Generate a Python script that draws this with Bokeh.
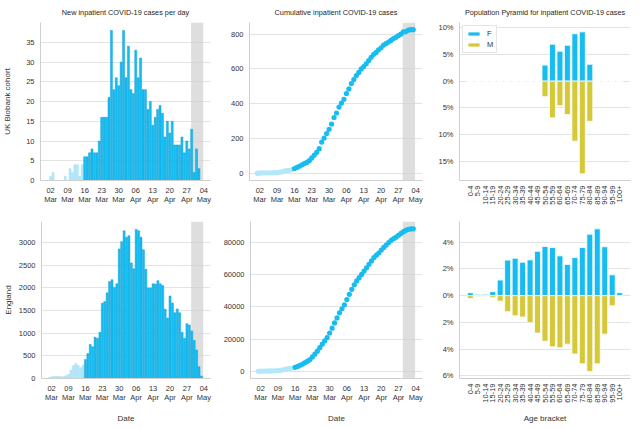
import numpy as np
import pandas as pd
from bokeh.plotting import figure
from bokeh.layouts import row, column
from bokeh.models import (ColumnDataSource, FixedTicker, DatetimeTickFormatter,
                          BoxAnnotation, Range1d, FactorRange)
from bokeh.embed import file_html
from bokeh.resources import INLINE

# days covered: 1 Mar .. 3 May 2020
dates = pd.date_range("2020-03-01", "2020-05-03", freq="D")
lockdown_split = pd.Timestamp("2020-03-16")   # lighter colour before this day

# new inpatient cases per day, UK Biobank cohort
ukb_daily = [0, 1, 2, 0, 0, 0, 0, 1, 0, 3, 2, 4, 4, 1, 4,
             6, 6, 7, 8, 7, 7, 10, 16, 16, 16, 21, 38, 23, 26, 24, 30,
             38, 26, 34, 23, 22, 33, 26, 31, 23, 23, 18, 20, 14, 16, 18,
             19, 17, 11, 15, 12, 15, 9, 9, 9, 11, 7, 10, 8, 13, 2,
             8, 3, 0]

# new inpatient cases per day, England
eng_daily = [20, 40, 45, 45, 50, 40, 40, 60, 90, 180, 280, 330, 290, 240, 290,
             420, 550, 750, 700, 910, 890, 1020, 1660, 1700, 1890, 2140, 2180, 2010, 2090, 2860, 3020,
             3260, 3120, 3150, 2550, 2420, 3290, 3260, 3120, 2840, 2410, 2000, 2000, 2090, 2085, 2160,
             2090, 2050, 1530, 1335, 1820, 1665, 1450, 1535, 1450, 1020, 890, 1210, 1180, 1050, 840,
             630, 260, 55]

# incomplete recent data (shaded)
shade_start = pd.Timestamp("2020-04-28 18:00")
shade_end = pd.Timestamp("2020-05-03 18:00")

date_ticks = ["2020-03-02", "2020-03-09", "2020-03-16", "2020-03-23", "2020-03-30",
              "2020-04-06", "2020-04-13", "2020-04-20", "2020-04-27", "2020-05-04"]

ages = ["0-4", "5-9", "10-14", "15-19", "20-24", "25-29", "30-34", "35-39", "40-44",
        "45-49", "50-54", "55-59", "60-64", "65-69", "70-74", "75-79", "80-84",
        "85-89", "90-94", "95-99", "100+"]

# percent of cases per age bracket
ukb_female = [0, 0, 0, 0, 0, 0, 0, 0, 0, 0, 3.0, 6.9, 5.6, 6.7, 8.85, 9.2, 3.15, 0, 0, 0, 0]
ukb_male = [0, 0, 0, 0, 0, 0, 0, 0, 0, 0, 2.9, 6.85, 4.6, 6.25, 11.2, 17.3, 7.5, 0, 0, 0, 0]
eng_female = [0.22, 0.1, 0.1, 0.3, 1.17, 2.66, 2.8, 2.5, 2.68, 3.32, 3.68, 3.6, 2.98,
              2.34, 2.85, 3.6, 4.6, 5.0, 3.66, 1.56, 0.22]
eng_male = [0.22, 0.07, 0.07, 0.15, 0.41, 1.2, 1.51, 1.6, 2.02, 2.8, 3.41, 3.83, 3.9,
            3.63, 4.37, 5.1, 5.68, 5.1, 2.88, 0.76, 0.07]

BLUE = "#17bdf1"
BLUE_EDGE = "#0aa3d9"
LIGHT = "#b3e7f9"
LIGHT_EDGE = "#a2dff4"
YELLOW = "#d5c93a"
FONT = "Liberation Sans"

DAY_MS = 86400000
x_lo = pd.Timestamp("2020-02-26 20:00")
x_hi = pd.Timestamp("2020-05-06 18:00")


def make_fig(width, height, y_range, borders, x_range=None, title=None, datetime=True):
    left, right, top, bottom = borders
    kw = dict(width=width, height=height, y_range=y_range,
              output_backend="svg", toolbar_location=None,
              min_border_left=left, min_border_right=right,
              min_border_top=top, min_border_bottom=bottom)
    if datetime:
        kw["x_axis_type"] = "datetime"
        kw["x_range"] = Range1d(x_lo, x_hi)
    else:
        kw["x_range"] = x_range
    if title:
        kw["title"] = title
    p = figure(**kw)
    p.outline_line_color = None
    p.background_fill_color = "white"
    p.xgrid.grid_line_color = None
    p.ygrid.grid_line_color = "#dcdcdc"
    p.ygrid.grid_line_width = 0.8
    p.axis.axis_line_color = "#cfcfcf"
    p.axis.major_tick_line_color = None
    p.axis.minor_tick_line_color = None
    p.axis.major_tick_out = 0
    p.axis.major_tick_in = 0
    p.axis.minor_tick_out = 0
    p.axis.minor_tick_in = 0
    p.axis.major_label_text_font = FONT
    p.axis.major_label_text_font_size = "7.5px"
    p.axis.major_label_text_color = "#333333"
    p.xaxis.major_label_standoff = 5
    p.yaxis.major_label_standoff = 6
    p.axis.axis_label_text_font = FONT
    p.axis.axis_label_text_font_size = "8px"
    p.axis.axis_label_text_font_style = "normal"
    p.axis.axis_label_text_color = "#333333"
    p.axis.axis_label_standoff = 4
    if title:
        p.title.text_font = FONT
        p.title.text_font_size = "7.3px"
        p.title.text_font_style = "normal"
        p.title.text_color = "#262626"
        p.title.align = "center"
        p.title.standoff = 11
    if datetime:
        p.xaxis.ticker = FixedTicker(ticks=[pd.Timestamp(d).value / 1e6 for d in date_ticks])
        p.xaxis.formatter = DatetimeTickFormatter(days="%d\n%b", months="%d\n%b")
        p.xaxis.major_label_text_line_height = 1.05
        p.add_layout(BoxAnnotation(left=shade_start, right=shade_end, fill_color="#d0d0d0",
                                   fill_alpha=0.7, line_color=None, level="underlay"))
    return p


def daily_bars(p, values):
    early = dates < lockdown_split
    src = ColumnDataSource(dict(
        x=dates, top=values,
        fill=np.where(early, LIGHT, BLUE),
        edge=np.where(early, LIGHT_EDGE, BLUE_EDGE)))
    p.vbar(x="x", top="top", width=0.82 * DAY_MS, source=src,
           fill_color="fill", line_color="edge", line_width=0.5)


def cumulative_dots(p, values):
    early = dates < lockdown_split
    src = ColumnDataSource(dict(
        x=dates, y=np.cumsum(values),
        c=np.where(early, LIGHT, BLUE)))
    p.scatter(x="x", y="y", size=5.2, source=src, fill_color="c", line_color=None)


def pyramid(p, female, male, legend=False):
    src = ColumnDataSource(dict(age=ages, f=female, m=[-v for v in male]))
    kw_f = dict(legend_label="F") if legend else {}
    kw_m = dict(legend_label="M") if legend else {}
    p.vbar(x="age", top="f", width=0.8, source=src, fill_color=BLUE,
           line_color="white", line_width=0.8, **kw_f)
    p.vbar(x="age", top="m", width=0.8, source=src, fill_color=YELLOW,
           line_color="white", line_width=0.8, **kw_m)
    p.xaxis.major_label_orientation = np.pi / 2


def pct_axis(p, ticks):
    p.yaxis.ticker = FixedTicker(ticks=ticks)
    p.yaxis.major_label_overrides = {t: f"{abs(t)}%" for t in ticks}


def age_range():
    return FactorRange(factors=ages, range_padding=0.95, range_padding_units="absolute")


# widths / borders (left, right, top, bottom)
W1, W2, W3 = 220, 212, 200
ROW1_H, ROW2_H = 207, 218
B1 = (38, 10, 22, 24)
B2 = (29, 10, 22, 24)
B3 = (27, 2, 22, 24)
C1 = (38, 10, 14, 42)
C2 = (29, 10, 14, 42)
C3 = (27, 2, 14, 42)

# row 1: UK Biobank
p1 = make_fig(W1, ROW1_H, Range1d(0, 40), B1, title="New inpatient COVID-19 cases per day")
daily_bars(p1, ukb_daily)
p1.yaxis.ticker = FixedTicker(ticks=[0, 5, 10, 15, 20, 25, 30, 35])
p1.yaxis.axis_label = "UK Biobank cohort"
p1.yaxis.axis_label_standoff = 11

p2 = make_fig(W2, ROW1_H, Range1d(-41, 867), B2, title="Cumulative inpatient COVID-19 cases")
cumulative_dots(p2, ukb_daily)
p2.yaxis.ticker = FixedTicker(ticks=[0, 200, 400, 600, 800])

p3 = make_fig(W3, ROW1_H, Range1d(-18.55, 10.95), B3, x_range=age_range(),
              title="Population Pyramid for inpatient COVID-19 cases", datetime=False)
pyramid(p3, ukb_female, ukb_male, legend=True)
pct_axis(p3, [-15, -10, -5, 0, 5, 10])
p3.legend.location = "top_left"
p3.legend.label_text_font = FONT
p3.legend.label_text_font_size = "7.5px"
p3.legend.label_text_color = "#333333"
p3.legend.glyph_width = 15
p3.legend.glyph_height = 5
p3.legend.label_height = 8
p3.legend.label_width = 5
p3.legend.label_standoff = 6
p3.legend.spacing = 2
p3.legend.padding = 3
p3.legend.margin = 3
p3.legend.border_line_color = "#cccccc"
p3.legend.border_line_width = 0.8

# row 2: England
p4 = make_fig(W1, ROW2_H, Range1d(0, 3465), C1)
daily_bars(p4, eng_daily)
p4.yaxis.ticker = FixedTicker(ticks=[0, 500, 1000, 1500, 2000, 2500, 3000])
p4.yaxis.axis_label = "England"
p4.yaxis.axis_label_standoff = 3
p4.xaxis.axis_label = "Date"
p4.xaxis.axis_label_standoff = 9

p5 = make_fig(W2, ROW2_H, Range1d(-4500, 93200), C2)
cumulative_dots(p5, eng_daily)
p5.yaxis.ticker = FixedTicker(ticks=[0, 20000, 40000, 60000, 80000])
p5.xaxis.axis_label = "Date"
p5.xaxis.axis_label_standoff = 9

p6 = make_fig(W3, ROW2_H, Range1d(-6.2, 5.55), C3, x_range=age_range(), datetime=False)
pyramid(p6, eng_female, eng_male)
pct_axis(p6, [-6, -4, -2, 0, 2, 4])
p6.xaxis.axis_label = "Age bracket"
p6.xaxis.axis_label_standoff = 8

layout = column(row(p1, p2, p3), row(p4, p5, p6))

open("out.html", "w").write(file_html(layout, INLINE))
